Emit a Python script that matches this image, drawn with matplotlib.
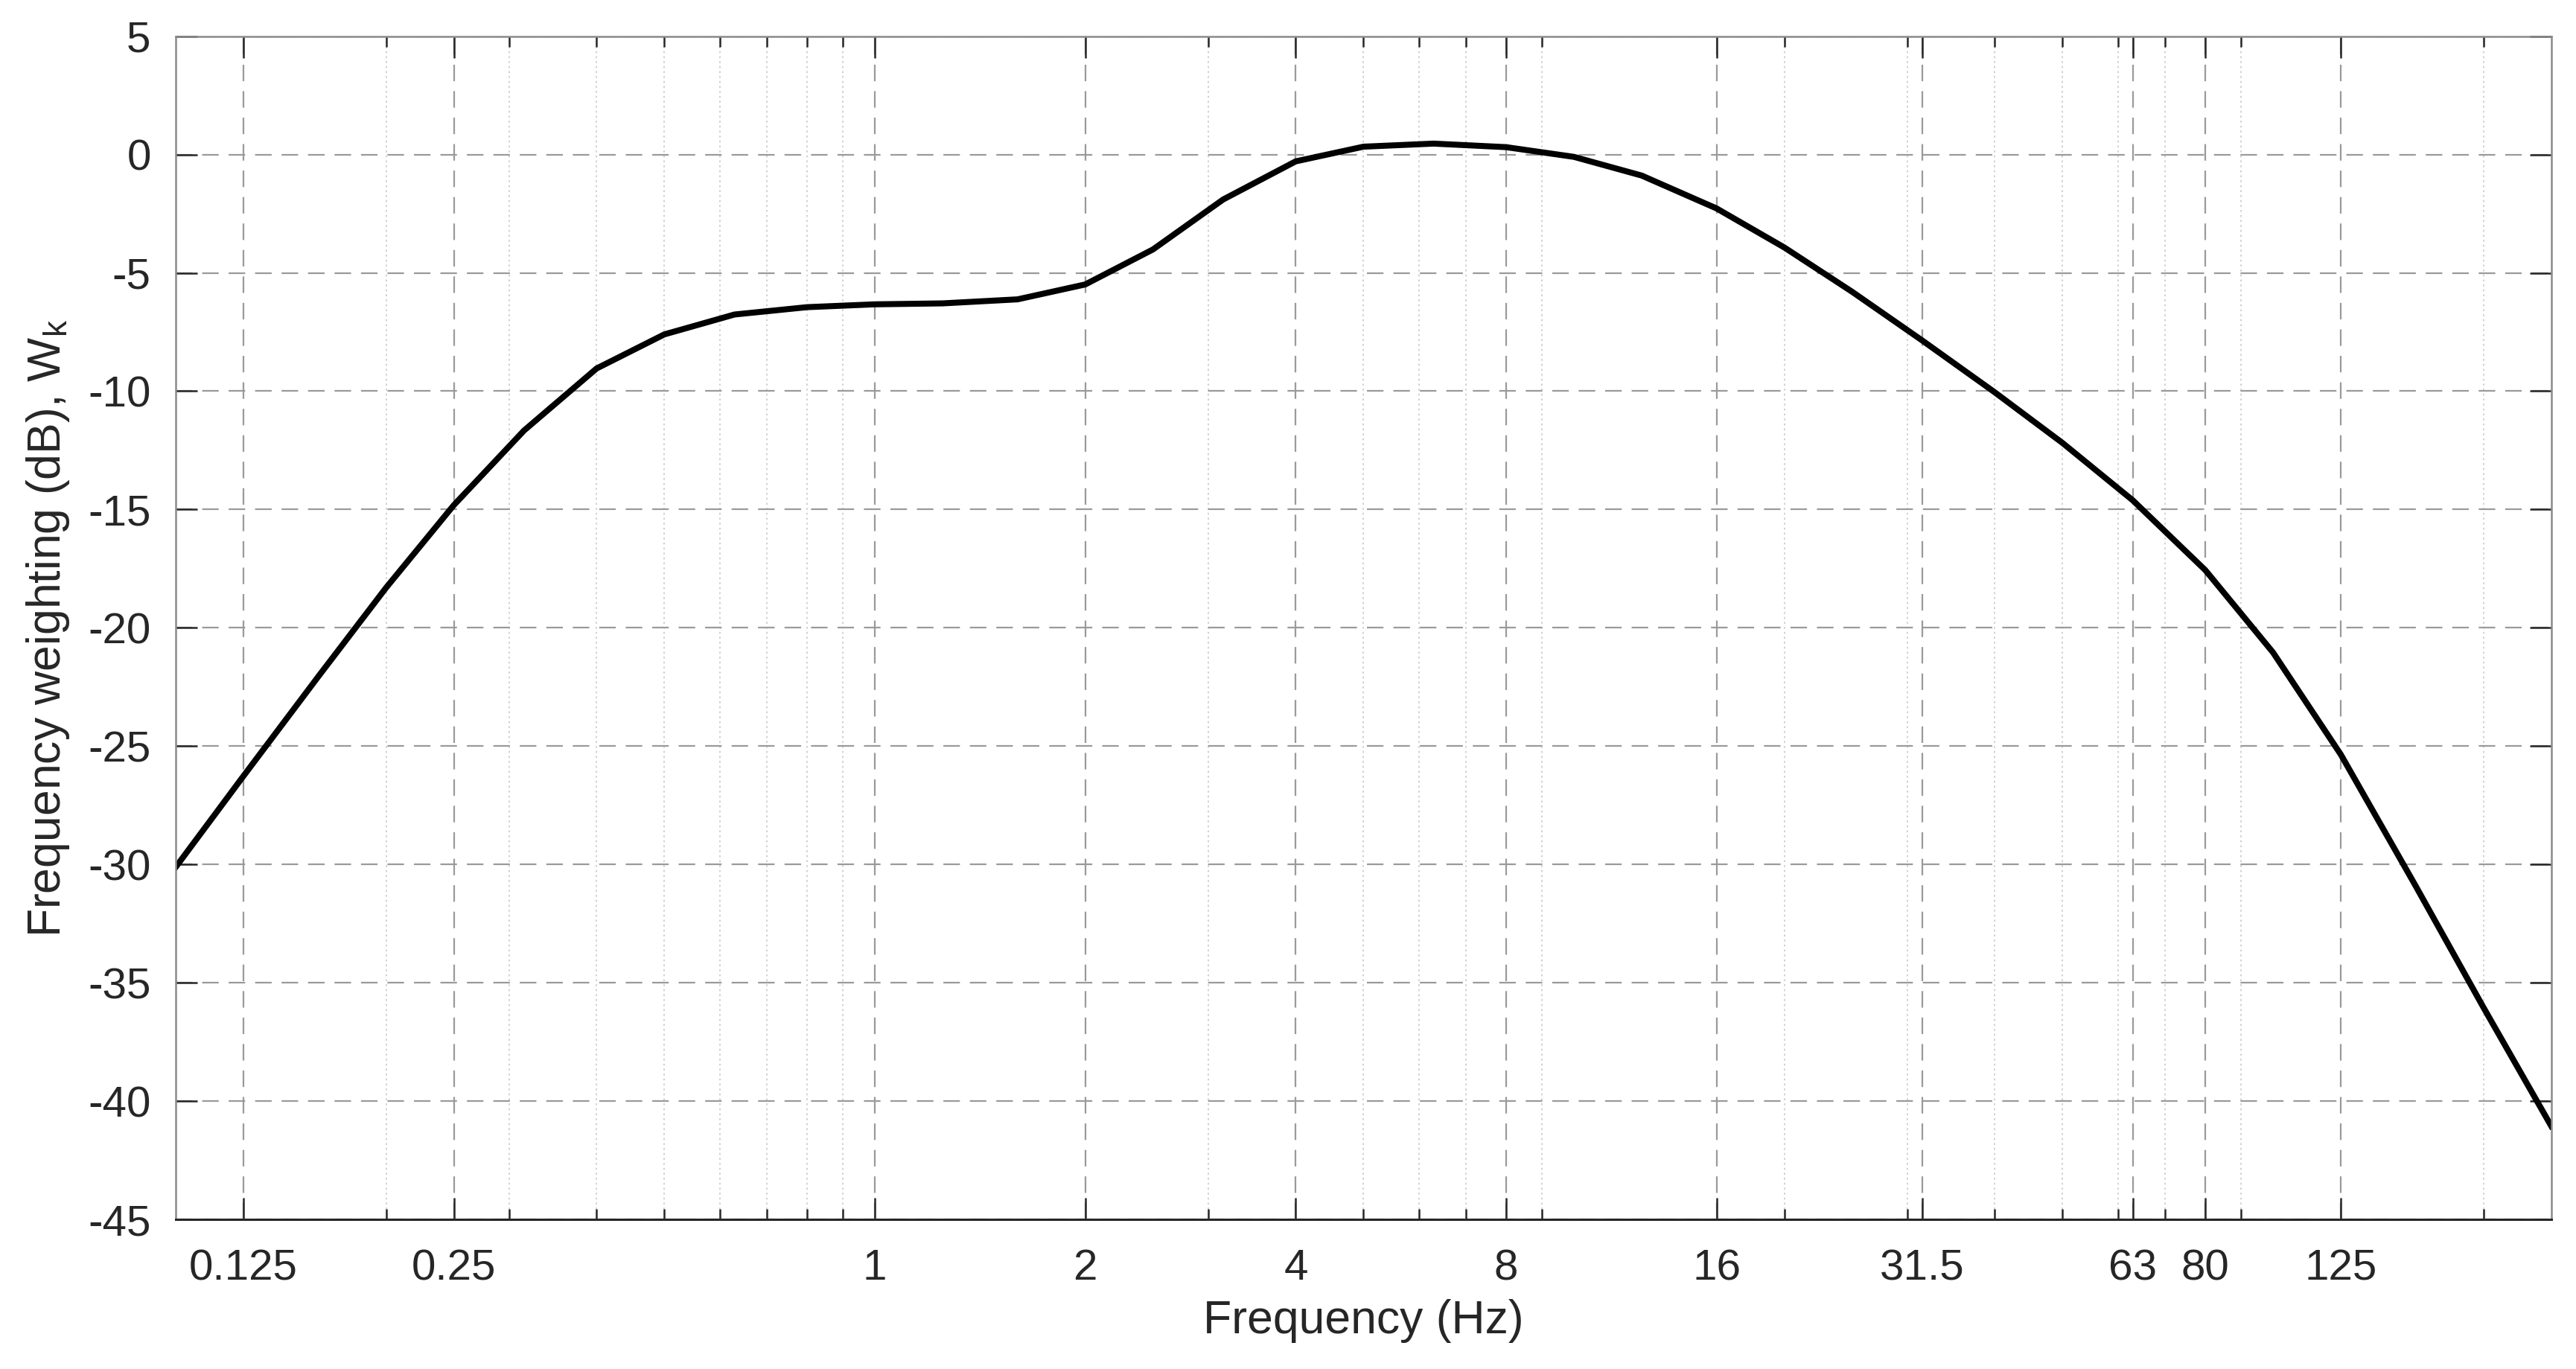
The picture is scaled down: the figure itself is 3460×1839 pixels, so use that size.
import numpy as np
import matplotlib
matplotlib.use('Agg')
import matplotlib.pyplot as plt
from matplotlib.ticker import FixedLocator, LogLocator, NullFormatter

plt.rcParams['font.family'] = ['Liberation Sans', 'DejaVu Sans']
plt.rcParams['mathtext.default'] = 'regular'
plt.rcParams['axes.unicode_minus'] = False

# one-third octave band centre frequencies (Hz) and Wk weighting (dB)
freq = [0.1, 0.125, 0.16, 0.2, 0.25, 0.315, 0.4, 0.5, 0.63, 0.8,
        1, 1.25, 1.6, 2, 2.5, 3.15, 4, 5, 6.3, 8,
        10, 12.5, 16, 20, 25, 31.5, 40, 50, 63, 80,
        100, 125, 160, 200, 250]
wk_db = [-30.11, -26.26, -22.05, -18.30, -14.81, -11.66, -9.04, -7.60, -6.76, -6.45,
         -6.33, -6.29, -6.12, -5.49, -4.01, -1.90, -0.29, 0.33, 0.46, 0.31,
         -0.10, -0.89, -2.28, -3.93, -5.80, -7.86, -10.05, -12.19, -14.61, -17.56,
         -21.04, -25.35, -30.91, -36.04, -41.05]

xticks = [0.125, 0.25, 1, 2, 4, 8, 16, 31.5, 63, 80, 125]
xtick_labels = ['0.125', '0.25', '1', '2', '4', '8', '16', '31.5', '63', '80', '125']
yticks = list(range(-45, 10, 5))

axcol = '#262626'

fig = plt.figure(figsize=(17.3, 9.195), dpi=200)
ax = fig.add_axes([0.0682, 0.1091, 0.9904 - 0.0682, 0.9736 - 0.1091])

ax.semilogx(freq, wk_db, color='black', linewidth=2.9, solid_joinstyle='miter')

ax.set_xlim(0.1, 250)
ax.set_ylim(-45, 5)
ax.xaxis.set_major_locator(FixedLocator(xticks))
ax.set_xticklabels(xtick_labels)
ax.xaxis.set_minor_locator(LogLocator(base=10, subs=np.arange(2, 10), numticks=20))
ax.xaxis.set_minor_formatter(NullFormatter())
ax.set_yticks(yticks)
ax.set_yticklabels([str(v) for v in yticks])

ax.grid(True, which='major', linestyle=(0, (10, 6)), color='#9a9a9a', linewidth=0.8)
ax.grid(True, which='minor', axis='x', linestyle=(0, (1.5, 2.5)), color='#c8c8c8', linewidth=0.6)

ax.tick_params(which='both', direction='in', top=True, right=True, colors=axcol,
               labelsize=21, labelcolor=axcol)
ax.tick_params(which='major', length=10.5, width=0.9)
ax.tick_params(which='minor', length=5.2, width=0.9)
ax.tick_params(axis='x', pad=14)
ax.tick_params(axis='y', pad=12)
for side in ['top', 'right', 'left']:
    ax.spines[side].set_color('#8a8a8a')
    ax.spines[side].set_linewidth(0.9)
ax.spines['bottom'].set_color(axcol)
ax.spines['bottom'].set_linewidth(1.1)

ax.set_xlabel('Frequency (Hz)', fontsize=22.5, color=axcol, labelpad=5)
ax.set_ylabel('Frequency weighting (dB), W$_k$', fontsize=22.5, color=axcol, labelpad=8)

fig.savefig('out.png', dpi=200)
